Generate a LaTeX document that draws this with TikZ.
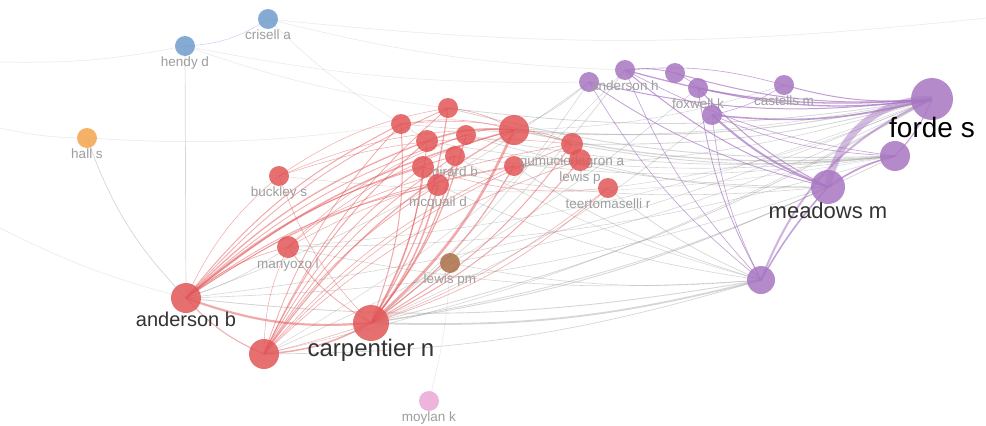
\documentclass[tikz,border=0pt]{standalone}
\usepackage{fontspec}
\setmainfont{Liberation Sans}
\usetikzlibrary{backgrounds}
\definecolor{vred}{RGB}{226,86,88}
\definecolor{vpurple}{RGB}{168,118,194}
\definecolor{vblue}{RGB}{112,156,204}
\definecolor{vorange}{RGB}{244,164,78}
\definecolor{vbrown}{RGB}{172,112,72}
\definecolor{vpink}{RGB}{234,168,214}

\begin{document}
\begin{tikzpicture}[x=1pt,y=-1pt,
  vn/.style={circle, inner sep=0pt, fill opacity=.85, text opacity=1},
  lbl/.style={text=black!38, font=\fontsize{13.5}{13.5}\selectfont, inner sep=0pt, fill opacity=1},
  biglbl/.style={text=black!80, font=\fontsize{20}{20}\selectfont, inner sep=0pt, fill opacity=1},
  redlink/.style={draw=vred, draw opacity=.5},
  greylink/.style={draw=black!45, draw opacity=.35},
  purplink/.style={draw=vpurple, draw opacity=.7},
  faint/.style={draw=black!30, draw opacity=.3, line width=.5pt}
]
  \useasboundingbox (0,0) rectangle (986,426);

  % lone nodes
  \node[vn, fill=vblue, minimum size=20pt, label={[lbl]below:crisell a}] (crisell) at (268,19) {};
  \node[vn, fill=vblue, minimum size=20pt, label={[lbl]below:hendy d}] (hendy) at (185,46) {};
  \node[vn, fill=vorange, minimum size=20pt, label={[lbl]below:hall s}] (halls) at (87,138) {};
  \node[vn, fill=vpink, minimum size=20pt, label={[lbl]below:moylan k}] (moylan) at (429,401) {};
  \node[vn, fill=vbrown, minimum size=20pt, label={[lbl]below:lewis pm}] (lewispm) at (450,263) {};

  % red cluster
  \node[vn, fill=vred, minimum size=20pt, label={[lbl]below:buckley s}] (buckley) at (279,176) {};
  \node[vn, fill=vred, minimum size=22pt, label={[lbl]below:manyozo l}] (manyozo) at (288,247) {};
  \node[vn, fill=vred, minimum size=30pt] (redlow) at (264,354) {};
  \node[vn, fill=vred, minimum size=20pt] (redA) at (401,124) {};
  \node[vn, fill=vred, minimum size=20pt] (redB) at (448,108) {};
  \node[vn, fill=vred, minimum size=22pt] (redC) at (427,141) {};
  \node[vn, fill=vred, minimum size=20pt] (redD) at (466,135) {};
  \node[vn, fill=vred, minimum size=30pt] (redE) at (514,130) {};
  \node[vn, fill=vred, minimum size=22pt] (redF) at (423,167) {};
  \node[vn, fill=vred, minimum size=20pt] (redG) at (514,166) {};
  \node[vn, fill=vred, minimum size=20pt, label={[lbl]below:girard b}] (girard) at (455,156) {};
  \node[vn, fill=vred, minimum size=22pt, label={[lbl]below:mcquail d}] (mcquail) at (438,185) {};
  \node[vn, fill=vred, minimum size=22pt, label={[lbl]below:gumuciodagron a}] (gumucio) at (572,144) {};
  \node[vn, fill=vred, minimum size=22pt, label={[lbl]below:lewis p}] (lewisp) at (580,160) {};
  \node[vn, fill=vred, minimum size=20pt, label={[lbl]below:teertomaselli r}] (teer) at (608,188) {};
  \node[vn, fill=vred, minimum size=30pt, label={[biglbl,yshift=1pt]below:anderson b}] (andersonb) at (186,298) {};
  \node[vn, fill=vred, minimum size=36pt, label={[biglbl,font=\fontsize{24}{24}\selectfont,yshift=2pt]below:carpentier n}] (carpentier) at (371,323) {};

  % purple cluster
  \node[vn, fill=vpurple, minimum size=20pt] (purA) at (589,82) {};
  \node[vn, fill=vpurple, minimum size=20pt, label={[lbl]below:anderson h}] (andersonh) at (625,70) {};
  \node[vn, fill=vpurple, minimum size=20pt] (purC) at (675,73) {};
  \node[vn, fill=vpurple, minimum size=20pt, label={[lbl]below:foxwell k}] (foxwell) at (698,88) {};
  \node[vn, fill=vpurple, minimum size=20pt] (purE) at (712,115) {};
  \node[vn, fill=vpurple, minimum size=20pt, label={[lbl]below:castells m}] (castells) at (784,85) {};
  \node[vn, fill=vpurple, minimum size=30pt] (purF) at (895,156) {};
  \node[vn, fill=vpurple, minimum size=28pt] (purG) at (761,280) {};
  \node[vn, fill=vpurple, minimum size=34pt, label={[biglbl,font=\fontsize{22}{22}\selectfont,yshift=2pt]below:meadows m}] (meadows) at (828,187) {};
  \node[vn, fill=vpurple, minimum size=42pt, label={[biglbl,text=black,font=\fontsize{28}{28}\selectfont,yshift=3pt]below:forde s}] (forde) at (932,99) {};

  % loose ends off the canvas
  \coordinate (offA) at (0,62);
  \coordinate (offB) at (0,128);
  \coordinate (offC) at (0,228);
  \coordinate (offD) at (986,18);

  \begin{pgfonlayer}{background}
    \fill[white] (0,0) rectangle (986,426);
    % faint links
    \foreach \a/\b in {offA/hendy, offB/halls, halls/redA, hendy/redB, crisell/redA,
        crisell/andersonh, hendy/purA, moylan/lewispm, offC/andersonb, crisell/offD}
      \draw[faint] (\a.center) to[bend right=6] (\b.center);
    \draw[blue!40, draw opacity=.6] (hendy.center) to[bend right=15] (crisell.center);
    \draw[greylink, line width=.7pt] (hendy.center) -- (andersonb.center);
    \draw[greylink, line width=.7pt] (halls.center) to[bend right=12] (andersonb.center);
    % grey links between clusters
    \foreach \a/\b/\w in {carpentier/purG/1.8, carpentier/meadows/.9, carpentier/forde/.8, carpentier/purF/.8,
        andersonb/purG/.9, andersonb/forde/.6, andersonb/meadows/.6, redlow/purG/.7, redE/forde/1.1,
        redE/purF/1.3, redB/forde/.8, redB/purF/.9, redA/forde/.6, redD/meadows/.7, gumucio/forde/.9,
        gumucio/purF/.9, lewisp/meadows/.7, teer/purG/.7, teer/forde/.5, mcquail/purG/.6, redG/purG/.7,
        girard/purF/.6, carpentier/andersonh/.7, redE/purA/.7, carpentier/purA/.6, andersonb/purA/.6,
        redlow/foxwell/.6, lewispm/purG/.6, lewispm/forde/.6, manyozo/purF/.6, manyozo/forde/.5,
        redC/purF/.6, redF/meadows/.6, redlow/andersonh/.5, carpentier/purE/.6, redE/castells/.5,
        redD/purF/.7, redG/forde/.6, manyozo/purG/.6, redlow/forde/.6, andersonb/manyozo/.6,
        redA/purG/.5, buckley/purF/.4}
      \draw[greylink, line width=\w pt] (\a.center) to[bend right=8] (\b.center);
    % red links, bulging up
    \foreach \a/\b/\w in {andersonb/redA/1, andersonb/redB/.8, andersonb/redC/1.3, andersonb/redD/.8,
        andersonb/redE/1.5, andersonb/girard/.8, andersonb/redF/1, andersonb/mcquail/.8, andersonb/redG/.8,
        andersonb/manyozo/.6, andersonb/buckley/.5, andersonb/gumucio/.6,
        redlow/redA/.8, redlow/redB/.8, redlow/redC/1, redlow/redE/1.2, redlow/girard/.8, redlow/redF/.8,
        redlow/mcquail/.8, redlow/redG/.6, redlow/gumucio/.6, redlow/lewisp/.6, redlow/manyozo/.5,
        redC/redE/1.6, redA/redE/.6, redB/redE/.6, redD/redE/.6, redE/gumucio/.6, manyozo/redE/.6,
        buckley/redB/.5, buckley/redE/.5, manyozo/redD/.5, redA/gumucio/.5, buckley/gumucio/.5,
        manyozo/lewisp/.5}
      \draw[redlink, line width=\w pt] (\a.center) to[bend left=12] (\b.center);
    % red links, bulging right
    \foreach \a/\b/\w in {carpentier/redA/1, carpentier/redB/1.2, carpentier/redC/1,
        carpentier/redD/1.2, carpentier/redE/2.6, carpentier/girard/1.2, carpentier/redF/1,
        carpentier/mcquail/1.5, carpentier/redG/1.2, carpentier/gumucio/1, carpentier/lewisp/1,
        carpentier/teer/.6, andersonb/carpentier/2.2, andersonb/redlow/1, manyozo/carpentier/.8,
        redlow/carpentier/1.5, buckley/carpentier/.5, redF/teer/.5, redlow/teer/.5}
      \draw[redlink, line width=\w pt] (\a.center) to[bend right=12] (\b.center);
    % purple links
    \foreach \a/\b/\w in {forde/andersonh/1.3, forde/purA/1, forde/purC/1, forde/foxwell/1.3,
        forde/purE/1.6, forde/castells/1, forde/purF/1, meadows/andersonh/1, meadows/purA/.8,
        meadows/foxwell/1, meadows/purE/2, meadows/purF/1.6, purG/purA/.6,
        purG/andersonh/.6, purG/foxwell/.8, purG/purE/.6, andersonh/purC/.8, purC/foxwell/.6,
        purF/purE/.6, purF/andersonh/.6, castells/purE/.5, andersonh/castells/.6}
      \draw[purplink, line width=\w pt] (\a.center) to[bend left=10] (\b.center);
    \draw[purplink, line width=1.5pt] (meadows.center) to[bend right=6] (purG.center);
    \draw[purplink, draw opacity=.5, line width=7pt] (forde.center) to[bend right=40] (meadows.center);
    \draw[purplink, draw opacity=.55, line width=2pt] (forde.center) to[bend right=22] (purG.center);
  \end{pgfonlayer}
\end{tikzpicture}
\end{document}
